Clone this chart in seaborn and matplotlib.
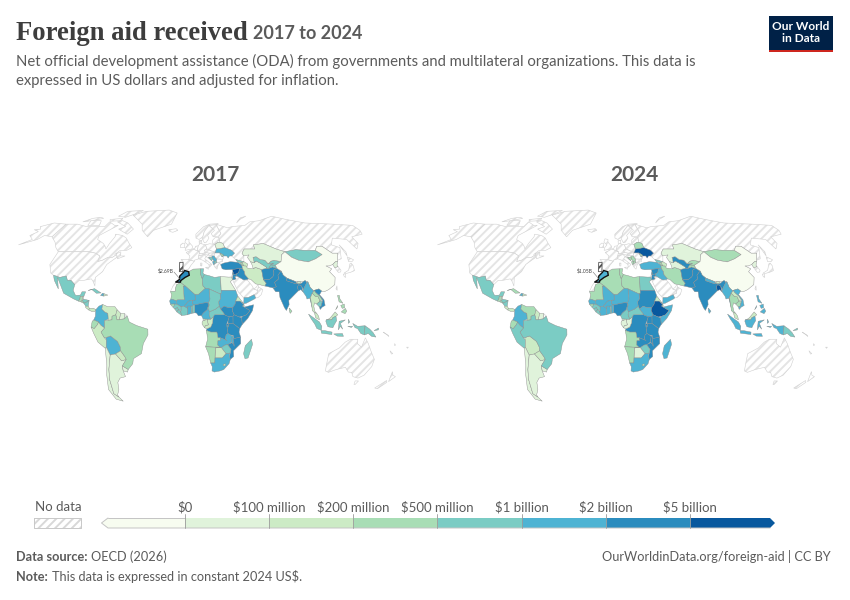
import numpy as np
import seaborn as sns
import matplotlib
matplotlib.use("Agg")
import matplotlib.pyplot as plt
from matplotlib.colors import ListedColormap

# Bins: 0 <$0, 1 <$100M, 2 <$200M, 3 <$500M, 4 <$1B, 5 <$2B, 6 <$5B, 7 >$5B
bin_colors = ["#f7fcf0", "#e0f3db", "#ccebc5", "#a8ddb5", "#7bccc4", "#4eb3d3", "#2b8cbe", "#08589e"]
legend_labels = ["$0", "$100 million", "$200 million", "$500 million", "$1 billion", "$2 billion", "$5 billion"]
years = ["2017", "2024"]

aid_2017 = {
    "Morocco": 6, "Algeria": 3, "Tunisia": 4, "Libya": 4, "Egypt": 1, "Sudan": 5, "South Sudan": 6, "Eritrea": 2,
    "Djibouti": 3, "Ethiopia": 6, "Somalia": 6, "Kenya": 6, "Uganda": 6, "Rwanda": 6, "Burundi": 5, "Tanzania": 6,
    "DRC": 6, "Congo": 2, "Gabon": 2, "Eq Guinea": 1, "Cameroon": 5, "CAR": 4, "Chad": 4, "Niger": 5, "Nigeria": 6,
    "Mali": 5, "Mauritania": 3, "Senegal": 5, "Guinea-Bissau": 3, "Guinea": 4, "Sierra Leone": 4, "Liberia": 4,
    "Ivory Coast": 4, "Burkina Faso": 5, "Ghana": 5, "Togo": 4, "Benin": 4, "Angola": 3, "Zambia": 5, "Malawi": 5,
    "Mozambique": 6, "Zimbabwe": 4, "Botswana": 2, "Namibia": 3, "South Africa": 5, "Lesotho": 2, "Madagascar": 4,
    "Turkey": 6, "Syria": 7, "Lebanon": 6, "Jordan": 6, "Iraq": 6, "Yemen": 5, "Iran": 2, "Georgia": 4, "Armenia": 3,
    "Azerbaijan": 2, "Afghanistan": 6, "Pakistan": 6, "Turkmenistan": 1, "Uzbekistan": 4, "Tajikistan": 4,
    "Kyrgyzstan": 4, "Kazakhstan": 1, "Mongolia": 4, "China": 0, "North Korea": 1, "India": 6, "Nepal": 6, "Bhutan": 2,
    "Bangladesh": 6, "Sri Lanka": 3, "Myanmar": 5, "Thailand": 2, "Laos": 3, "Cambodia": 4, "Vietnam": 6,
    "Malaysia": 2, "Indonesia": 4, "Papua New Guinea": 4, "Philippines": 3, "Serbia": 5, "Bosnia": 4, "Albania": 5,
    "North Macedonia": 4, "Ukraine": 5, "Moldova": 3, "Belarus": 1, "Mexico": 4, "Guatemala": 3, "Belize": 1,
    "Honduras": 4, "El Salvador": 3, "Nicaragua": 4, "Costa Rica": 2, "Panama": 2, "Cuba": 4, "Haiti": 5,
    "Dominican Republic": 2, "Colombia": 5, "Venezuela": 2, "Guyana": 2, "Suriname": 1, "Ecuador": 3, "Peru": 2,
    "Bolivia": 5, "Chile": 1, "Argentina": 1, "Paraguay": 2, "Uruguay": 1, "Brazil": 3,
}
aid_2024 = dict(aid_2017)
aid_2024.update({
    "Morocco": 5, "Tunisia": 3, "Libya": 3, "Egypt": 4, "Sudan": 6, "South Sudan": 5, "Ethiopia": 7, "Somalia": 5,
    "Congo": 1, "Gabon": 1, "Cameroon": 4, "Chad": 5, "Ivory Coast": 5, "Benin": 5, "Zambia": 6, "Malawi": 6,
    "Botswana": 1, "Madagascar": 5, "Turkey": 5, "Syria": 6, "Iraq": 5, "Iran": 3, "Uzbekistan": 6, "Tajikistan": 3,
    "Kyrgyzstan": 3, "Mongolia": 3, "Nepal": 5, "Bangladesh": 7, "Sri Lanka": 5, "Thailand": 3, "Laos": 2,
    "Cambodia": 3, "Vietnam": 5, "Indonesia": 5, "Philippines": 5, "Serbia": 3, "Bosnia": 3, "Albania": 3,
    "North Macedonia": 3, "Ukraine": 7, "Belarus": 3, "Cuba": 3, "Venezuela": 3, "Peru": 4, "Bolivia": 2, "Brazil": 4,
    "Mali": 5, "Burkina Faso": 5,
})

# Coarse outlines as (lon, lat)
no_data_shapes = [
    [(-141,70),(-128,70),(-115,68),(-95,68),(-94,72),(-85,69),(-81,69),(-86,66),(-94,61),(-93,58),(-85,55),(-82,53),(-80,51),(-79,55),(-77,60),(-78,62),(-70,61),(-65,59),(-60,55),(-56,52),(-60,50),(-66,50),(-70,47),(-65,49),(-64,46),(-60,46),(-66,44),(-68,47),(-71,45),(-75,45),(-79,43),(-83,42),(-83,46),(-88,48),(-95,49),(-123,49),(-128,52),(-133,56),(-141,60)],
    [(-80,73),(-72,71),(-62,66),(-66,62),(-72,64),(-78,66),(-72,68),(-85,72)],
    [(-117,73),(-105,73),(-102,69),(-115,69)],
    [(-90,77),(-85,82),(-65,83),(-72,79),(-80,76)],
    [(-125,72),(-118,75),(-110,76),(-105,75),(-116,73)],
    [(-96,74),(-82,75),(-82,73),(-94,72.5)],
    [(-123,49),(-95,49),(-88,48),(-83,46),(-83,42),(-79,43),(-75,45),(-71,45),(-68,47),(-67,45),(-70,43),(-74,40),(-76,35),(-81,31),(-80,25),(-82,28),(-84,30),(-90,29),(-94,29),(-97,26),(-101,29),(-104,29),(-106,32),(-111,31),(-117,32.5),(-120,34),(-124,40)],
    [(-141,70),(-156,71),(-166,68),(-162,66),(-168,65.5),(-161,64),(-165,61),(-158,58),(-166,54),(-153,58),(-150,61),(-141,60)],
    [(-73,78),(-60,82),(-30,83.5),(-18,80),(-22,70),(-40,65),(-44,60),(-52,65),(-55,70),(-68,76)],
    [(28,70),(40,67),(45,68),(60,69),(68,72),(80,73),(100,77),(113,74),(130,71),(160,70),(180,69),(180,65),(177,62),(163,60),(162,55),(156,51),(155,58),(142,59),(135,54),(141,52),(135,44),(131,43),(135,48),(130,48),(125,53),(120,53),(116,50),(106,50),(98,50.5),(87,49),(80,51),(70,55),(60,54),(60,51),(50,51),(47,48),(48,46),(47,42),(40,43.5),(37,46),(40,48),(38,50),(32,52),(31,55),(28,56),(28,60),(31,62.5),(30,65),(28,69.5)],
    [(52,71),(58,74),(68,77),(60,75.5),(55,73)],
    [(142,46),(143.5,49),(142.5,54),(142,50)],
    [(-24,65.5),(-16,66.3),(-14,65),(-19,63.5),(-22,64)],
    [(-5.5,50),(1,51),(1.5,53),(-2,56),(-2,58),(-5,58.5),(-6,56),(-3,54),(-5,52)],
    [(-10,52),(-6,52),(-6,55),(-8,55.3),(-10,54)],
    [(5,59),(5,62),(14,68),(21,70),(31,70.5),(28,69.5),(20,69),(14,64),(12,60),(8,58)],
    [(12,60),(14,64),(20,69),(24,66),(21,64),(17,61),(18,59),(15,56),(13,55.5),(11,59)],
    [(20,69),(28,69.5),(30,65),(31,62.5),(28,60.5),(22.5,60),(21,62.5),(25,65),(24,66)],
    [(-9,43.5),(-2,43.4),(3,42.3),(0,39.5),(-2,36.8),(-5.5,36),(-7,37.2),(-7,42)],
    [(-4.5,48.5),(2,51),(8,49),(7,44),(3,43),(3,42.3),(-2,43.4),(-1,46)],
    [(2,51),(3.5,51.4),(4.5,53),(7,53.3),(6,50),(8,49)],
    [(7,53.5),(9,55),(14,54),(15,51),(12.5,50),(13.5,48.5),(10,47.5),(7.5,47.6),(8,49),(6,50)],
    [(8,55),(8,57),(10.5,57.5),(10.5,55)],
    [(7.5,47.6),(10,47.5),(13.5,48.5),(17,48),(16,46.7),(12,47),(10,46.5),(7,46)],
    [(7,44),(7,46),(12,47),(13.7,45.6),(12.3,44),(18.4,40),(16,38),(15.7,40),(10.5,43)],
    [(12.5,38),(15.5,38.2),(15,36.7)],
    [(8.3,41),(9.7,41),(9.5,39),(8.4,39)],
    [(14,54),(18,54.8),(23,54.3),(24,51),(22.7,49),(19,49.5),(15,51)],
    [(12.5,50),(15,51),(19,49.5),(22.7,49),(22,48.2),(17,48),(13.5,48.5)],
    [(16,46.7),(17,48),(22,48.2),(21,46),(18,45.8)],
    [(21,46),(22,48.2),(26.5,48.2),(28,45.5),(29.5,45),(28.5,43.7),(23,43.8),(22,44.5)],
    [(23,43.8),(28.5,43.7),(28,42),(23,41.4)],
    [(20,39.7),(23,41.4),(26,41),(24,40),(23,38),(22.5,36.7),(21,38)],
    [(13.7,45.6),(16,46.7),(19,46),(19,45),(15.8,45),(18.5,42.6),(14.5,45)],
    [(21,55),(21.5,57.5),(24.5,59.5),(28,59.5),(28,56),(26,55.7),(23,54.3)],
    [(-17,21.3),(-13,21.3),(-13,23),(-12,26),(-8.7,27.3),(-8.7,27.7),(-13,27.7),(-15,25),(-16,23)],
    [(34.3,31.3),(35.2,33.1),(35.8,32.7),(35,29.5)],
    [(34.9,29.5),(36,29.3),(38,30),(37,31.5),(39,32),(44.5,29.2),(47.5,29),(48.5,28),(51,25),(52,23),(55,22),(55,20),(52,19),(47,17),(43,16.5),(43,17),(39,21),(37,25)],
    [(52,19),(55,20),(55,22),(56,24.5),(59.5,22.5),(57.8,19),(55,17),(53,16.7)],
    [(52,23),(55,22),(56,24.5),(56,26),(54,24)],
    [(125,37.8),(128.3,38.5),(129.4,36),(128.5,34.8),(126.3,34.5)],
    [(131,34),(136,36),(140,40.5),(141.5,41),(142,39),(140.8,35.7),(137,34.6),(133,33.8)],
    [(140,42),(141.5,45.4),(145.5,43.3),(143,42)],
    [(130,33.3),(132,33.4),(131,31),(130,31.5)],
    [(120.2,23),(121.5,25.2),(121,22)],
    [(-54,6),(-51.7,4.2),(-54,2.2)],
    [(114,-22),(122,-18),(126,-14),(130,-12),(136,-12),(136,-15),(140,-17.5),(142,-11),(145,-15),(149,-21),(153,-26),(153,-31),(150,-37),(146,-39),(141,-38),(138,-35),(135,-34.8),(131,-31.5),(124,-33),(118,-35),(115,-34),(114,-27)],
    [(145,-41),(148,-41),(147,-43.5),(146,-43.5)],
    [(172.7,-34.5),(175,-37),(178,-38),(175,-41.5),(174,-39)],
    [(172.5,-40.7),(174,-42),(170,-46.5),(167,-46)],
    [(164,-20),(167,-22),(166,-22.3)],
    [(177,-17.5),(178.5,-17.5),(178,-18.3)],
    [(156,-7),(160,-9),(161,-10)],
    [(166.5,-15),(167.5,-16),(167,-16.5)],
]
portugal = [(-10,41.5),(-7,41.5),(-7,35),(-10,35)]

outlines = {
    "Morocco": [[(-13,27.7),(-9.8,29.5),(-9.5,32),(-6.5,34.5),(-5.5,35.8),(-2,35),(-1.5,32.5),(-5,31),(-8.7,28.7),(-8.7,27.7)]],
    "Algeria": [[(-8.7,27.3),(-8.7,28.7),(-5,31),(-1.5,32.5),(-2,35),(2,36.8),(8.5,37),(8.3,33),(9.5,30),(10,25),(12,23.5),(6,19),(3.3,19),(-4.8,25)]],
    "Tunisia": [[(8.5,37),(11,37),(10.2,34),(11.5,33),(9.5,30),(8.3,33)]],
    "Libya": [[(11.5,33),(15,32.3),(20,31),(25,31.6),(25,20),(24,19.5),(15,23),(12,23.5),(10,25),(9.5,30)]],
    "Egypt": [[(25,31.6),(32,31.2),(34.2,31.3),(34.9,29.5),(33,28),(37,22),(25,22)]],
    "Sudan": [[(25,22),(37,22),(38.5,18),(36.5,14.5),(36,12.5),(34,10),(33,10),(30,10),(27,11),(24,9),(23,11),(22.5,14),(24,16),(24,19.5),(25,20)]],
    "South Sudan": [[(24,9),(27,11),(30,10),(33,10),(34,10),(33.5,8),(35,5),(34,4),(31,3.7),(28,4.5),(27.4,5)]],
    "Eritrea": [[(36.5,14.5),(38.5,18),(43,12.7),(40,14.5)]],
    "Djibouti": [[(42,11),(43,12.7),(43.4,11.5),(42.6,11)]],
    "Ethiopia": [[(36.5,14.5),(40,14.5),(42.7,12.4),(42,11),(43,10.5),(48,8),(45,5),(42,4),(39,3.5),(35,5),(33.5,8),(34,10),(36,12.5)]],
    "Somalia": [[(43,10.5),(44,10.5),(51,12),(50,8),(46,2.5),(41.5,-1.7),(41,3),(42,4),(45,5),(48,8)]],
    "Kenya": [[(34,4),(35,5),(39,3.5),(41,3),(41.5,-1.7),(39.5,-4.6),(34,-1),(34,1)]],
    "Uganda": [[(31,3.7),(34,4),(34,1),(34,-1),(30,-1),(30,1)]],
    "Rwanda": [[(29,-1.2),(30.5,-1.2),(30.7,-2.5),(29,-2.7)]],
    "Burundi": [[(29,-2.7),(30.7,-2.5),(30,-4.4),(29.4,-4.4)]],
    "Tanzania": [[(30.5,-1),(34,-1),(39.5,-4.6),(39,-7),(40.4,-10.5),(35,-11.5),(34.5,-9.5),(32,-9),(30,-8),(29.4,-4.4),(30.7,-2.5)]],
    "DRC": [[(12.3,-6),(13,-4.7),(16,-3.5),(17.5,-0.5),(18,3.5),(19,5),(25,5),(27.4,5),(28,4.5),(31,3.7),(30,1),(29,-1.2),(29,-2.7),(29.4,-4.4),(30,-8),(28.5,-9),(28,-12),(29.5,-13),(27,-12),(24,-11),(22,-11),(21,-7),(16,-7),(13,-6)]],
    "Congo": [[(11,-4),(13,-4.7),(16,-3.5),(17.5,-0.5),(18,3.5),(16,2),(13,2),(14,-2),(11.5,-2.5)]],
    "Gabon": [[(9,0),(9.8,1),(11.3,1),(11.3,2.2),(13,2),(14,-2),(11.5,-2.5),(11,-4),(9,-1.5)]],
    "Eq Guinea": [[(9.8,1),(9.8,2.2),(11.3,2.2),(11.3,1)]],
    "Cameroon": [[(8.5,4.5),(9.8,2.2),(13,2),(16,2),(14.7,5),(15,7),(14,10),(15,12),(14,13),(14,11),(13,8.5),(10,6.3)]],
    "CAR": [[(14.7,5),(16,2),(18,3.5),(19,5),(25,5),(27.4,5),(24,9),(23,11),(20,9),(16,7.5),(15,7)]],
    "Chad": [[(15,23),(24,19.5),(24,16),(22.5,14),(23,11),(20,9),(16,7.5),(15,7),(14,10),(15,12),(14,13),(15.5,16),(15,20)]],
    "Niger": [[(3.3,19),(6,19),(12,23.5),(15,23),(15,20),(15.5,16),(14,13),(13,13.5),(9,13),(4,12),(3,11.8),(2.3,12),(1,13),(1,15),(3.5,15.4)]],
    "Nigeria": [[(3,6.4),(3,11.8),(4,12),(9,13),(13,13.5),(14,13),(14,11),(13,8.5),(10,6.3),(8.5,4.5),(6,4.3),(4.5,6.2)]],
    "Mali": [[(-12,14.5),(-11.4,12.3),(-8,10.5),(-5.5,11),(-4.5,12),(-2,14.5),(1,15),(3.5,15.4),(3.3,19),(-4.8,25),(-6.5,25),(-5.5,15.5),(-11,15.5)]],
    "Mauritania": [[(-17,21.3),(-16,19),(-16.5,16),(-12,14.8),(-11,15.5),(-5.5,15.5),(-6.5,25),(-4.8,25),(-8.7,27.3),(-12,26),(-13,23),(-13,21.3)]],
    "Senegal": [[(-17.5,14.7),(-16.5,16),(-12,14.8),(-12,14.5),(-11.4,12.3),(-13.7,12.5),(-16.8,12.4)]],
    "Guinea-Bissau": [[(-16.8,12.4),(-13.7,12.5),(-13.7,11),(-15.5,11)]],
    "Guinea": [[(-13.7,12.5),(-11.4,12.3),(-8,10.5),(-8,8),(-10.3,8.5),(-11,10),(-13.2,9),(-15,10.5),(-13.7,11)]],
    "Sierra Leone": [[(-13.2,9),(-11,10),(-10.3,8.5),(-11.5,7)]],
    "Liberia": [[(-11.5,7),(-10.3,8.5),(-8.5,7.5),(-7.5,4.5)]],
    "Ivory Coast": [[(-8.5,7.5),(-8,8),(-8,10.5),(-5.5,11),(-2.7,9.5),(-3,5),(-7.5,4.5)]],
    "Burkina Faso": [[(-5.5,11),(-4.5,12),(-2,14.5),(1,15),(1,13),(2.3,12),(1,11),(0,11),(-2.7,11),(-2.7,9.5)]],
    "Ghana": [[(-2.7,11),(0,11),(0.5,6),(-3,5),(-2.7,9.5)]],
    "Togo": [[(0,11),(1,11),(1.6,6.2),(0.5,6)]],
    "Benin": [[(1,11),(2.3,12),(3,11.8),(3,6.4),(1.6,6.2)]],
    "Angola": [[(12.3,-6),(13,-6),(16,-7),(21,-7),(22,-11),(24,-11),(24,-13),(22,-13),(22,-16),(24,-17.5),(19,-17.5),(12,-17.2),(13.5,-12),(13,-8.5)]],
    "Zambia": [[(22,-13),(24,-13),(24,-11),(27,-12),(29.5,-13),(28,-12),(28.5,-9),(30,-8),(32,-9),(33.5,-10),(33,-14),(30,-15.8),(28,-16),(25,-17.8),(24,-17.5),(22,-16)]],
    "Malawi": [[(33,-14),(33.5,-10),(34.5,-9.5),(35,-14),(35.5,-17),(34.5,-15)]],
    "Mozambique": [[(35,-11.5),(40.4,-10.5),(40.7,-15),(35,-20),(35.5,-24),(32.8,-26),(32,-24),(33,-19),(30,-15.8),(33,-14.5),(34.5,-15),(35.5,-17),(35,-14),(34.5,-11.5)]],
    "Zimbabwe": [[(25,-17.8),(28,-16),(30,-15.8),(33,-19),(32,-22),(29,-22),(26,-19)]],
    "Botswana": [[(20,-18),(24,-17.8),(25,-17.8),(26,-19),(29,-22),(26,-25),(23,-25),(20,-25),(20,-22)]],
    "Namibia": [[(12,-17.2),(19,-17.5),(24,-17.5),(25,-17.8),(24,-17.8),(20,-18),(20,-22),(20,-28.5),(16.5,-28.5),(14.5,-22)]],
    "South Africa": [[(16.5,-28.5),(20,-28.5),(20,-25),(23,-25),(26,-25),(29,-22),(32,-22),(32,-24),(32.8,-26),(32,-29),(28,-33),(25,-34),(20,-34.8),(18,-34),(18,-31)]],
    "Lesotho": [[(27,-29.5),(29,-29),(29,-30.5),(27.5,-30.5)]],
    "Madagascar": [[(49.3,-12),(50.4,-15.5),(47.5,-25),(45,-25.5),(43.5,-22),(44.5,-16.5)]],
    "Turkey": [[(26,40),(29,41),(35,42),(41.5,41.5),(44.5,39.7),(44.7,37),(42,37.2),(36,36.5),(30,36.3),(27,37)]],
    "Syria": [[(36,36.5),(42,37.2),(41,34.5),(38.8,33.4),(36,33)]],
    "Lebanon": [[(35.2,33.1),(36,33.3),(36.5,34.6),(35.9,34.6)]],
    "Jordan": [[(35,29.5),(35.8,32.7),(36,33),(38.8,33.4),(39,32),(37,31.5),(38,30),(36,29.3)]],
    "Iraq": [[(38.8,33.4),(41,34.5),(42,37.2),(44.7,37),(46,35),(46,33),(48.5,30),(47.5,29.5),(44.5,29.2),(39,32)]],
    "Yemen": [[(43,12.7),(45,13),(52,16),(53,16.7),(52,19),(47,17),(43.5,17)]],
    "Iran": [[(44.5,39.7),(48,39),(49,37.5),(54,37),(56,38),(61,36.5),(61,31.5),(61,29.5),(63,27),(61.6,25),(57,26),(54,26.5),(50.5,29.5),(48.5,30),(46,33),(46,35),(44.7,37)]],
    "Georgia": [[(40,43.5),(47,42),(45,41.2),(41.5,41.5)]],
    "Armenia": [[(43.5,41),(45,41.2),(46.5,39),(44.5,39.7)]],
    "Azerbaijan": [[(45,41.2),(47,42),(50,40.3),(48.9,38.5),(48,39),(46.5,39)]],
    "Afghanistan": [[(61,36.5),(65,37.3),(67.5,37.3),(71,38.3),(74.5,37.3),(71,36),(71,34),(69.5,31.5),(66,29.5),(61,29.5),(61,31.5)]],
    "Pakistan": [[(61.6,25),(63,27),(61,29.5),(66,29.5),(69.5,31.5),(71,34),(71,36),(74.5,37.3),(77.5,35.5),(74,32.5),(74,30),(70,27.5),(71,24.5),(68,23.7)]],
    "Turkmenistan": [[(52.8,42),(56,41.3),(58,42.5),(61,41),(66,38),(65,37.3),(61,36.5),(56,38),(54,37),(53.5,40)]],
    "Uzbekistan": [[(56,41.3),(56,45),(59,45.5),(62,43.5),(66,43),(68,40.5),(73,40.8),(70,39.7),(67.5,37.3),(65,37.3),(66,38),(61,41),(58,42.5)]],
    "Tajikistan": [[(67.5,37.3),(70,39.7),(74,39.5),(74.5,37.3),(71,38.3)]],
    "Kyrgyzstan": [[(70,39.7),(73,40.8),(68,40.5),(71,42.3),(74,43),(80,42),(74,39.5)]],
    "Kazakhstan": [[(47,48),(50,51),(60,51),(60,54),(70,55),(80,51),(87,49),(83,47),(80,42),(74,43),(71,42.3),(68,40.5),(66,43),(62,43.5),(59,45.5),(56,45),(56,41.3),(52.8,42),(51,45),(53,46.8),(48,46)]],
    "Mongolia": [[(87,49),(98,50.5),(106,50),(116,50),(120,47),(112,44),(104,41.8),(96,43),(91,45)]],
    "China": [[(74,39.5),(80,42),(83,47),(87,49),(91,45),(96,43),(104,41.8),(112,44),(120,47),(116,50),(120,53),(125,53),(130,48),(135,48),(131,43),(130.6,42.4),(128,41.8),(124.5,40),(121,39),(118,39),(122,37),(119,35),(122,31),(120,26),(114,22.5),(110,21),(108,21.5),(106,23),(102,22),(101.5,21.5),(99,24),(98,28),(92,28),(89,28),(88,28),(81,30.5),(78.5,32.5),(77.5,35.5),(74.5,37.3)]],
    "North Korea": [[(124.5,40),(128,41.8),(130.6,42.4),(128,39.5),(128.3,38.5),(125,37.8)]],
    "India": [[(68,23.7),(71,24.5),(70,27.5),(74,30),(74,32.5),(77.5,35.5),(78.5,32.5),(81,30.5),(80,28.8),(88,26.4),(88.2,27.5),(89,26.8),(92,26.8),(96,29),(97,27.5),(94.5,24.5),(93,22.5),(92,25),(89.8,26),(88.5,24.5),(88.8,21.7),(86.5,20),(82,16.5),(80,15),(80,12),(77.5,8),(76,10),(73,17),(72.8,21),(70,21)]],
    "Nepal": [[(81,30.5),(88,28),(88,26.4),(80,28.8)]],
    "Bhutan": [[(89,26.8),(89,28),(92,28),(92,26.8)]],
    "Bangladesh": [[(88.5,24.5),(89.8,26),(92,25),(92.5,21),(91,22.5),(88.8,21.7)]],
    "Sri Lanka": [[(80,9.7),(82,7.5),(80.5,6),(79.8,8)]],
    "Myanmar": [[(92.5,21),(93,22.5),(94.5,24.5),(97,27.5),(98,28),(99,24),(101.5,21.5),(100,20),(98,17),(98.5,10),(97.5,16.5),(95,16),(94.5,18)]],
    "Thailand": [[(98.5,10),(98,17),(100,20),(101,19),(102,18),(104.5,17.5),(105.5,14.5),(102.5,12.5),(100.8,13.3),(100,11),(100.5,7.5),(102,6),(100.2,6.5),(98.5,8)]],
    "Laos": [[(101.5,21.5),(102,22),(103,20.5),(106,18),(107.5,15.5),(105.5,14.5),(104.5,17.5),(102,18),(101,19),(100,20)]],
    "Cambodia": [[(102.5,12.5),(105.5,14.5),(107.5,14.5),(106,11),(104.5,10.5)]],
    "Vietnam": [[(102,22),(106,23),(108,21.5),(105.8,19),(108.8,15.5),(109.3,11.5),(106.7,10.3),(105,8.7),(104.5,10.5),(106,11),(107.5,14.5),(107.5,15.5),(106,18),(103,20.5)]],
    "Malaysia": [[(100.2,6.5),(102,6),(103.5,4),(104,1.5),(101,3)],
                 [(109.5,1.5),(111,1.8),(113,3),(117,7),(119,5),(117.5,4),(115,3),(114,1.5)]],
    "Indonesia": [[(95.3,5.5),(100,2.5),(104,0),(106,-3),(105.8,-5.8),(102,-4.5),(100.3,-1.5),(97.5,2)],
                  [(105.5,-6),(108.5,-6),(114.5,-7),(114.5,-8.7),(106,-7.8)],
                  [(109.2,0.5),(109.5,1.5),(114,1.5),(115,3),(117.5,4),(118,1),(116,-2),(115,-4),(111,-3.3),(110,-1.5)],
                  [(119.5,-5.5),(120,0.5),(125,1.5),(121,-1),(123,-5),(121,-3)],
                  [(116,-8.3),(123,-8),(124,-10),(119,-9.8)],
                  [(131,-1),(135,-3),(141,-2.6),(141,-9),(138,-8),(135,-4.5),(133,-4)],
                  [(127.5,2),(128.5,0),(127.5,-1)],
                  [(127,-3),(131,-3),(130,-3.8)]],
    "Papua New Guinea": [[(141,-2.6),(145,-5),(148,-7.5),(150.5,-10.5),(147,-10),(144,-8),(141,-9)],
                         [(148.5,-6),(152,-4.2),(152,-5.5)]],
    "Philippines": [[(120.5,18.5),(122,18.5),(122,16),(124,13),(121,14)],
                    [(122,7),(125.5,9.5),(126.5,7.5),(125,5.8)],
                    [(122,11.5),(125,12.5),(125,10),(123,9.5)],
                    [(117.5,8.5),(119.5,11.5),(119,10)]],
    "Serbia": [[(19,46),(21,46),(22,44.5),(23,43.8),(22.5,42.4),(20.5,42.3),(19.3,44),(19,45)]],
    "Bosnia": [[(15.8,45),(19,45),(19.3,44),(18.5,42.6)]],
    "Albania": [[(19.3,42.2),(20.5,42.3),(21,40.7),(20,39.7),(19.3,41)]],
    "North Macedonia": [[(20.5,42.3),(22.5,42.4),(23,41.4),(21,40.7)]],
    "Ukraine": [[(22.7,49),(24,51),(32,52),(38,50),(40,48),(37,46),(35,46),(33.5,44.5),(32.5,46),(30,46),(28,45.5),(29.8,46.5),(26.5,48.2),(22,48.2)]],
    "Moldova": [[(26.5,48.2),(29.8,46.5),(28,45.5)]],
    "Belarus": [[(23,54.3),(26,55.7),(28,56),(31,55),(32,52),(24,51)]],
    "Mexico": [[(-117,32.5),(-111,31),(-106,32),(-104,29),(-101,29),(-97,26),(-97.5,22),(-95,18.5),(-91,18.7),(-90,21),(-87,21),(-88,18),(-91,17.8),(-91,16),(-92,14.5),(-96,16),(-105,20),(-109,26),(-113,31),(-110,23),(-115,29)]],
    "Guatemala": [[(-92,14.5),(-91,16),(-91,17.8),(-89,17.8),(-89,15.8),(-90,14)]],
    "Belize": [[(-89,17.8),(-88,18),(-88.3,16),(-89,15.9)]],
    "Honduras": [[(-89,15),(-88,15.9),(-83.3,15),(-85,14),(-87.5,13)]],
    "El Salvador": [[(-90,14),(-89,15),(-87.7,13.5),(-88,13.2)]],
    "Nicaragua": [[(-87.5,13),(-85,14),(-83.3,15),(-83.7,11),(-85.7,11)]],
    "Costa Rica": [[(-85.7,11),(-83.7,11),(-82.6,9.5),(-83,8.3),(-85.7,10)]],
    "Panama": [[(-83,8.3),(-82.6,9.5),(-79.5,9.6),(-77.3,8.6),(-78,7.3),(-80.5,7.3)]],
    "Cuba": [[(-85,22),(-80,23.2),(-74.2,20.2),(-78,20),(-82,22.5)]],
    "Haiti": [[(-74.4,18.4),(-73,20),(-71.7,19.7),(-71.7,18)]],
    "Dominican Republic": [[(-71.7,19.7),(-68.4,18.7),(-71.7,18)]],
    "Colombia": [[(-77.3,8.6),(-75,11),(-72,12.2),(-72.5,9),(-70,7),(-67.5,6),(-67,2),(-70,1),(-70,-4.2),(-73,-2.3),(-75,0),(-78.8,1.4),(-77.5,4),(-77.5,7)]],
    "Venezuela": [[(-72,12.2),(-68,10.7),(-62,10.7),(-60,8.5),(-61,5),(-64,4),(-64,1.5),(-67,1.2),(-67,2),(-67.5,6),(-70,7),(-72.5,9)]],
    "Guyana": [[(-60,8.5),(-57,6),(-58,1.5),(-60,1.5),(-61,5)]],
    "Suriname": [[(-57,6),(-54,6),(-54,2.2),(-58,1.8)]],
    "Ecuador": [[(-80,0.5),(-78.8,1.4),(-75,0),(-75.5,-1.5),(-78.5,-4.7),(-81,-3.5)]],
    "Peru": [[(-81,-3.5),(-78.5,-4.7),(-75.5,-1.5),(-75,0),(-73,-2.3),(-70,-4.2),(-73,-7),(-70.5,-11),(-69,-12.5),(-69.5,-17.5),(-70.5,-18.3),(-76,-14),(-79,-8)]],
    "Bolivia": [[(-69.5,-10.9),(-65.5,-9.7),(-60,-13.5),(-58,-17.5),(-58,-20),(-62.5,-22.2),(-67,-23),(-69.5,-17.5),(-69,-12.5)]],
    "Chile": [[(-70.5,-18.3),(-69.5,-17.5),(-67,-23),(-70,-33),(-71.5,-40),(-72,-50),(-68.5,-52.5),(-66,-55.5),(-72,-54),(-75.5,-47),(-73,-37),(-71,-30)]],
    "Argentina": [[(-67,-23),(-62.5,-22.2),(-58,-27),(-54,-26),(-58,-30.5),(-58,-34),(-57,-38),(-62,-39),(-65,-42),(-66,-47),(-69,-51),(-68.5,-52.5),(-72,-50),(-71.5,-40),(-70,-33)]],
    "Paraguay": [[(-62.5,-22.2),(-58,-20),(-55,-24),(-54,-26),(-58,-27)]],
    "Uruguay": [[(-58,-34),(-58,-30.5),(-53.5,-33),(-54.5,-34.8)]],
    "Brazil": [[(-70,-4.2),(-70,1),(-67,1.2),(-64,1.5),(-64,4),(-61,5),(-60,1.5),(-58,1.5),(-54,2.2),(-51.7,4.2),(-50,0),(-44,-2.5),(-35,-5),(-35,-9),(-39,-15),(-41,-22),(-48,-25.5),(-49,-29),(-53.5,-33),(-58,-30.5),(-54,-26),(-55,-24),(-58,-20),(-58,-17.5),(-60,-13.5),(-65.5,-9.7),(-69.5,-10.9),(-70.5,-11),(-73,-7)]],
}

# Robinson projection table
rob_lat = np.arange(0, 95, 5)
rob_x = [1, .9986, .9954, .99, .9822, .973, .96, .9427, .9216, .8962, .8679, .835, .7986, .7597, .7186, .6732, .6213, .5722, .5322]
rob_y = [0, .062, .124, .186, .248, .31, .372, .434, .4958, .5571, .6176, .6769, .7346, .7903, .8435, .8936, .9394, .9761, 1]


def project(shape):
    pts = np.array(shape, dtype=float)
    abs_lat = np.abs(pts[:, 1])
    x = 1.235 * pts[:, 0] * np.interp(abs_lat, rob_lat, rob_x)
    y = 116 * np.sign(pts[:, 1]) * np.interp(abs_lat, rob_lat, rob_y)
    return x, y


def draw_map(ax, values, note):
    palette = sns.color_palette(bin_colors)
    for shape in no_data_shapes:
        x, y = project(shape)
        ax.fill(x, y, facecolor="white", edgecolor="#e4e4e4", hatch="////", linewidth=0)
        ax.fill(x, y, fill=False, edgecolor="#d0d0d0", linewidth=0.4)
    for name, shapes in outlines.items():
        for shape in shapes:
            x, y = project(shape)
            highlight = name == "Morocco"
            ax.fill(x, y, facecolor=palette[values[name]],
                    edgecolor="#111111" if highlight else "#8c8c8c",
                    linewidth=1.0 if highlight else 0.3, zorder=3 if highlight else 2)
    # Portugal is drawn outlined in the original
    x, y = project(portugal)
    ax.fill(x, y, facecolor="white", edgecolor="#555555", hatch="////", linewidth=0.6, zorder=3)
    # small label with a leader line for Morocco
    ax.plot([-17, -11], [50, 43], color="#777777", linewidth=0.4, zorder=3)
    ax.text(-17.5, 51, note, fontsize=3.6, color="#444444", ha="right", va="center")
    ax.set_xlim(-191, 234)
    ax.set_ylim(-88, 132)
    ax.axis("off")


sns.set_theme(style="white")
plt.rcParams["font.family"] = ["Lato", "DejaVu Sans"]
plt.rcParams["hatch.linewidth"] = 1.4

fig = plt.figure(figsize=(8.5, 6), dpi=100)
fig.patch.set_facecolor("white")


def px_axes(left, top, width, height):
    return fig.add_axes([left / 850, 1 - (top + height) / 600, width / 850, height / 600])


ax_2017 = px_axes(0, 190, 425, 220)
ax_2024 = px_axes(419, 190, 425, 220)
draw_map(ax_2017, aid_2017, "$2.69B")
draw_map(ax_2024, aid_2024, "$1.05B")

# colour legend
ax_leg = px_axes(101, 518, 674, 10)
sns.heatmap(np.arange(8).reshape(1, 8), ax=ax_leg, cmap=ListedColormap(bin_colors), cbar=False,
            xticklabels=False, yticklabels=False, vmin=-0.5, vmax=7.5)

page = fig.add_axes([0, 0, 1, 1], zorder=10)
page.set_xlim(0, 850)
page.set_ylim(600, 0)
page.axis("off")
page.patch.set_alpha(0)

# cut the two ends of the legend bar into points
page.fill([100, 108, 108, 101.5, 100], [517, 517, 518, 523, 523], color="white", linewidth=0)
page.fill([100, 108, 108, 101.5, 100], [529, 529, 528, 523, 523], color="white", linewidth=0)
page.fill([770, 776, 776, 775, 770], [517, 517, 523, 523, 518], color="white", linewidth=0)
page.fill([770, 776, 776, 775, 770], [529, 529, 523, 523, 528], color="white", linewidth=0)
page.plot([108, 101.5, 108, 770], [518, 523, 528, 528], color="#c4c4c4", linewidth=0.7)
page.plot([108, 185], [518, 518], color="#c4c4c4", linewidth=0.7)
for i, label in enumerate(legend_labels):
    tick_x = 185 + i * 84.15
    page.plot([tick_x, tick_x], [514, 528], color="#9a9a9a", linewidth=0.6)
    page.text(tick_x, 507, label, fontsize=9.5, color="#5b5b5b", ha="center", va="center")

# no data swatch
page.fill([34, 81, 81, 34], [518, 518, 528, 528], facecolor="white", edgecolor="#d8d8d8", hatch="////", linewidth=0)
page.plot([34, 81, 81, 34, 34], [518, 518, 528, 528, 518], color="#c8c8c8", linewidth=0.7)
page.text(58, 507, "No data", fontsize=9.5, color="#5b5b5b", ha="center", va="center")

# headers
page.text(16, 40, "Foreign aid received", fontsize=19.15, color="#3d3d3d", fontweight="bold",
          family=["Liberation Serif"], va="baseline")
page.text(253, 39, "2017 to 2024", fontsize=13, color="#5b5b5b", fontweight="bold", va="baseline")
page.text(16, 66, "Net official development assistance (ODA) from governments and multilateral organizations. This data is",
          fontsize=10.72, color="#5b5b5b", va="baseline")
page.text(16, 85, "expressed in US dollars and adjusted for inflation.", fontsize=10.72, color="#5b5b5b", va="baseline")
page.text(215, 175, years[0], fontsize=15, color="#5b5b5b", fontweight="bold", ha="center", va="center")
page.text(634, 175, years[1], fontsize=15, color="#5b5b5b", fontweight="bold", ha="center", va="center")

# footer
page.text(16, 561, "Data source:", fontsize=9.2, color="#5b5b5b", fontweight="bold", va="baseline")
page.text(91, 561, "OECD (2026)", fontsize=9.2, color="#5b5b5b", va="baseline")
page.text(16, 581, "Note:", fontsize=9.2, color="#5b5b5b", fontweight="bold", va="baseline")
page.text(52, 581, "This data is expressed in constant 2024 US$.", fontsize=9.2, color="#5b5b5b", va="baseline")
page.text(831, 561, "OurWorldinData.org/foreign-aid | CC BY", fontsize=9.2, color="#5b5b5b", ha="right", va="baseline")

# logo
page.fill([769, 833, 833, 769], [16, 16, 50, 50], color="#002147", linewidth=0)
page.fill([769, 833, 833, 769], [49.5, 49.5, 52, 52], color="#ce261e", linewidth=0)
page.text(801, 27, "Our World", fontsize=8.6, color="white", fontweight="bold", ha="center", va="center")
page.text(801, 39, "in Data", fontsize=8.6, color="white", fontweight="bold", ha="center", va="center")

fig.savefig("out.png", dpi=100)
